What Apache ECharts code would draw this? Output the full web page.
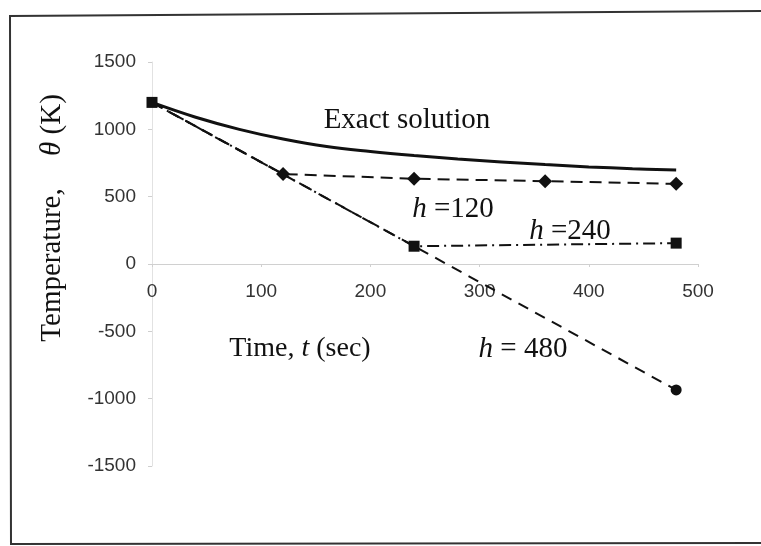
<!DOCTYPE html>
<html><head><meta charset="utf-8">
<script src="https://cdn.jsdelivr.net/npm/echarts@6/dist/echarts.min.js"></script>
<style>html,body{margin:0;padding:0;background:#fff}#c{width:761px;height:546px}</style>
</head><body><div id="c"></div>
<script>
const xTicks = [0, 100, 200, 300, 400, 500];
const yTicks = [-1500, -1000, -500, 0, 500, 1000, 1500];
const exactT = [0, 40, 80, 120, 160, 200, 240, 280, 320, 360, 400, 440, 480];
const exactTheta = [1200, 1090, 1000, 928, 872, 835, 805, 780, 758, 738, 721, 708, 698];
const h120T = [0, 120, 240, 360, 480];
const h120Theta = [1200, 668, 633, 615, 595];
const h240T = [0, 240, 480];
const h240Theta = [1200, 132, 155];
const h480T = [0, 480];
const h480Theta = [1200, -935];

const pair = (xs, ys) => xs.map((x, i) => [x, ys[i]]);
const serif = '"Liberation Serif", "Times New Roman", serif';
const sans = '"Liberation Sans", Arial, sans-serif';
const ink = '#111';
const gridBottom = 80;

const chart = echarts.init(document.getElementById('c'), null, {renderer: 'canvas'});
chart.setOption({
  animation: false,
  backgroundColor: '#fff',
  grid: {left: 152, right: 63, top: 62, bottom: gridBottom, containLabel: false},
  xAxis: {
    type: 'value', min: xTicks[0], max: xTicks[xTicks.length - 1], interval: xTicks[1] - xTicks[0],
    position: 'bottom', offset: 0,
    axisLine: {show: true, onZero: false, lineStyle: {color: '#d0d0d0', width: 1}},
    axisTick: {show: true, length: 3, lineStyle: {color: '#d0d0d0'}},
    splitLine: {show: false},
    axisLabel: {color: '#333', fontFamily: sans, fontSize: 19, margin: 18, formatter: v => String(v)}
  },
  yAxis: {
    type: 'value', min: yTicks[0], max: yTicks[yTicks.length - 1], interval: yTicks[1] - yTicks[0],
    axisLine: {show: true, onZero: false, lineStyle: {color: '#e2e2e2', width: 1}},
    axisTick: {show: true, length: 4, lineStyle: {color: '#cfcfcf'}},
    splitLine: {show: false},
    axisLabel: {color: '#333', fontFamily: sans, fontSize: 19, margin: 16, formatter: v => String(v)}
  },
  series: [
    {
      name: 'Exact solution', type: 'line', data: pair(exactT, exactTheta),
      smooth: 0.4, showSymbol: false, symbol: 'none',
      lineStyle: {color: ink, width: 3}, z: 3
    },
    {
      name: 'h=480', type: 'line',
      data: pair(h480T, h480Theta).map((p, i) => i === 0 ? {value: p, symbol: 'none'} : p),
      symbol: 'circle', symbolSize: 11,
      itemStyle: {color: ink},
      lineStyle: {color: ink, width: 2, type: [11, 8]}, z: 4
    },
    {
      name: 'h=240', type: 'line', data: pair(h240T, h240Theta),
      symbol: 'rect', symbolSize: 11,
      itemStyle: {color: ink},
      lineStyle: {color: ink, width: 2, type: [12, 5, 2, 5]}, z: 5
    },
    {
      name: 'h=120', type: 'line',
      data: pair(h120T, h120Theta).map((p, i) => i === 0 ? {value: p, symbol: 'none'} : p),
      symbol: 'diamond', symbolSize: 14,
      itemStyle: {color: ink},
      lineStyle: {color: ink, width: 2, type: [12, 7]}, z: 5
    }
  ],
  graphic: [
    {type: 'polyline', shape: {points: [[761, 11], [10, 16], [11, 544], [761, 543]]},
     style: {stroke: '#333', lineWidth: 2, fill: null}, z: 1},
    {type: 'text', x: 407, y: 120, style: {text: 'Exact solution', font: '29px ' + serif, fill: ink, align: 'center', verticalAlign: 'middle'}},
    {type: 'text', x: 453, y: 209, style: {text: '{i|h} =120', rich: {i: {font: 'italic 29px ' + serif, fill: ink}}, font: '29px ' + serif, fill: ink, align: 'center', verticalAlign: 'middle'}},
    {type: 'text', x: 570, y: 231, style: {text: '{i|h} =240', rich: {i: {font: 'italic 29px ' + serif, fill: ink}}, font: '29px ' + serif, fill: ink, align: 'center', verticalAlign: 'middle'}},
    {type: 'text', x: 523, y: 349, style: {text: '{i|h} = 480', rich: {i: {font: 'italic 29px ' + serif, fill: ink}}, font: '29px ' + serif, fill: ink, align: 'center', verticalAlign: 'middle'}},
    {type: 'text', x: 300, y: 349, style: {text: 'Time, {i|t} (sec)', rich: {i: {font: 'italic 28px ' + serif, fill: ink}}, font: '28px ' + serif, fill: ink, align: 'center', verticalAlign: 'middle'}},
    {type: 'text', x: 52, y: 265, rotation: Math.PI / 2, style: {text: 'Temperature,', font: '29px ' + serif, fill: ink, align: 'center', verticalAlign: 'middle'}},
    {type: 'text', x: 52, y: 125, rotation: Math.PI / 2, style: {text: '{i|θ} (K)', rich: {i: {font: 'italic 29px ' + serif, fill: ink}}, font: '29px ' + serif, fill: ink, align: 'center', verticalAlign: 'middle'}}
  ]
});
// move the x axis (line + labels) up to the θ = 0 level, as in the reference
const zeroPx = chart.convertToPixel({yAxisIndex: 0}, 0);
const bottomPx = chart.getHeight() - gridBottom;
chart.setOption({xAxis: {offset: zeroPx - bottomPx}});
</script>
</body></html>
